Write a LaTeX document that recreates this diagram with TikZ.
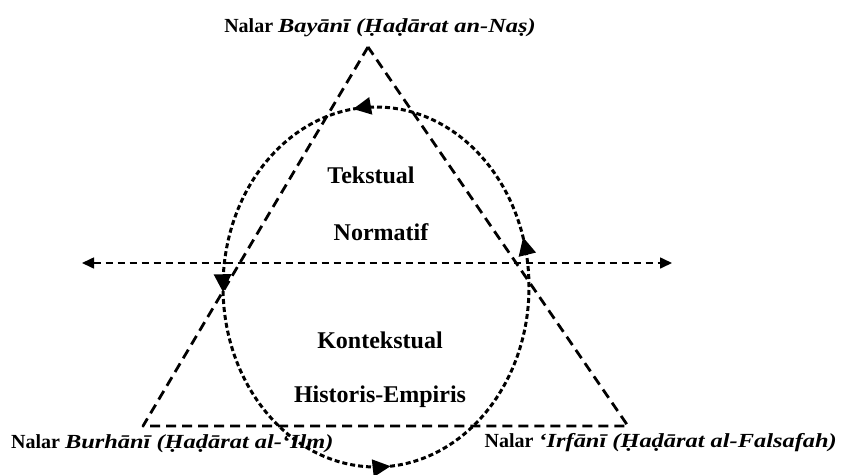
\documentclass[tikz,border=0pt]{standalone}
\usepackage{fontspec}
\setmainfont{Liberation Serif}
\newfontfamily\miring[FakeStretch=1.22]{Liberation Serif}
\newcommand{\nama}[1]{{\miring\bfseries\itshape #1}}
\usetikzlibrary{arrows.meta,decorations.markings}

\begin{document}
\begin{tikzpicture}[line cap=butt,line join=round,x=1pt,y=-1pt,
  segitiga/.style={line width=2.8pt,dash pattern=on 10pt off 6pt},
  putaran/.style={line width=3pt,dash pattern=on 5pt off 3pt},
  sumbu/.style={line width=1.6pt,dash pattern=on 7pt off 5pt,{Triangle[length=12pt,width=11pt]}-{Triangle[length=12pt,width=11pt]}},
  panah/.style={decoration={markings,
    mark=at position 0.048 with {\arrow{Triangle[length=18pt,width=17pt]}},
    mark=at position 0.272 with {\arrow{Triangle[length=18pt,width=17pt]}},
    mark=at position 0.505 with {\arrow{Triangle[length=18pt,width=17pt]}},
    mark=at position 0.764 with {\arrow{Triangle[length=18pt,width=17pt]}}},postaction={decorate}},
  label/.style={font=\bfseries\fontsize{20}{24}\selectfont,inner sep=0pt},
  isi/.style={font=\bfseries\fontsize{24}{28}\selectfont,inner sep=0pt}]
\useasboundingbox (0,0) rectangle (843,474);
\coordinate (puncak) at (368,47);
\coordinate (kiri) at (143,426);
\coordinate (kanan) at (628,426);
\coordinate (mulai) at (529,287);
\coordinate (ujungkiri) at (82,263);
\coordinate (ujungkanan) at (672,263);
\draw [segitiga] (puncak) -- (kiri) -- (kanan) -- cycle;
\draw [sumbu] (ujungkiri) -- (ujungkanan);
\draw [putaran,panah] (mulai) arc [start angle=0,end angle=-360,x radius=153,y radius=180];
\node [label,anchor=base] (bayani) at (380,32) {Nalar \nama{Bayānī (Ḥaḍārat an-Naṣ)}};
\node [label,anchor=base west] (burhani) at (11,448) {Nalar \nama{Burhānī (Ḥaḍārat al-‘Ilm)}};
\node [label,anchor=base east] (irfani) at (837,447) {Nalar \nama{‘Irfānī (Ḥaḍārat al-Falsafah)}};
\node [isi,anchor=base] (tekstual) at (371,183) {Tekstual};
\node [isi,anchor=base] (normatif) at (381,240) {Normatif};
\node [isi,anchor=base] (kontekstual) at (380,348) {Kontekstual};
\node [isi,anchor=base] (historis) at (380,402) {Historis-Empiris};
\end{tikzpicture}
\end{document}
